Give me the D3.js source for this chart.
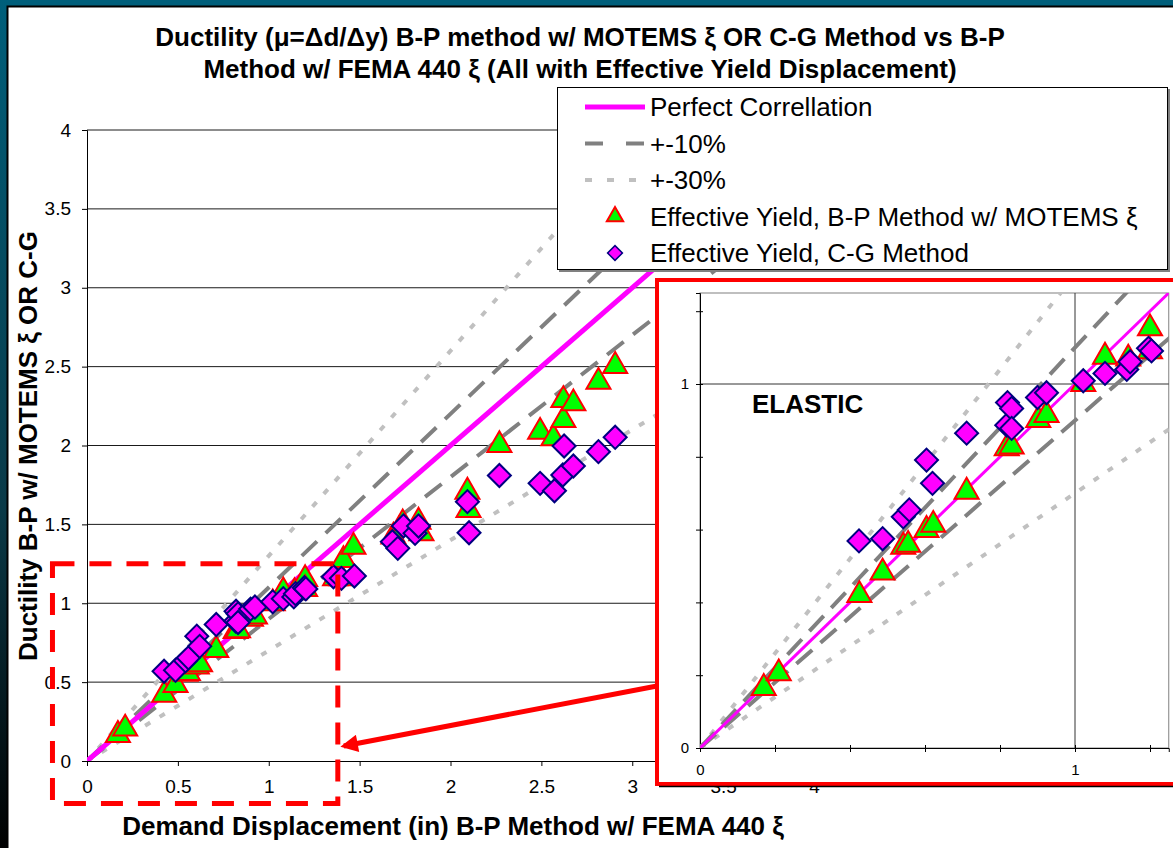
<!DOCTYPE html>
<html>
<head>
<meta charset="utf-8">
<script src="https://cdn.jsdelivr.net/npm/d3@7"></script>
<style>
  html, body { margin: 0; padding: 0; background: #005f7b; }
  svg { display: block; font-family: Arial, "Liberation Sans", sans-serif; }
</style>
</head>
<body>
<svg id="chart" width="1173" height="848"></svg>
<script>
'use strict';

var bpMotems = [
  [0.17, 0.165], [0.21, 0.205], [0.425, 0.42], [0.487, 0.482], [0.542, 0.553],
  [0.555, 0.558], [0.604, 0.599], [0.622, 0.613], [0.711, 0.704], [0.818, 0.823],
  [0.831, 0.828], [0.902, 0.901], [0.924, 0.915], [1.022, 1.0], [1.08, 1.075],
  [1.142, 1.07], [1.2, 1.153], [1.2, 1.09], [1.365, 1.158], [1.4, 1.158],
  [1.411, 1.274], [1.466, 1.358], [1.686, 1.422], [1.737, 1.506], [1.824, 1.517],
  [1.84, 1.443], [2.093, 1.707], [2.099, 1.591], [2.269, 2.003], [2.493, 2.087],
  [2.566, 2.045], [2.621, 2.162], [2.621, 2.288], [2.676, 2.267], [2.814, 2.404],
  [2.906, 2.504]
];

var cgMethod = [
  [0.424, 0.569], [0.487, 0.575], [0.542, 0.635], [0.558, 0.654], [0.604, 0.791],
  [0.62, 0.727], [0.711, 0.865], [0.818, 0.887], [0.82, 0.949], [0.831, 0.933],
  [0.831, 0.878], [0.9, 0.963], [0.924, 0.976], [1.022, 1.009], [1.08, 1.029],
  [1.138, 1.04], [1.147, 1.061], [1.196, 1.098], [1.204, 1.091], [1.356, 1.168],
  [1.4, 1.158], [1.471, 1.173], [1.68, 1.39], [1.71, 1.348], [1.741, 1.49],
  [1.805, 1.443], [1.824, 1.49], [2.093, 1.644], [2.102, 1.447], [2.269, 1.81],
  [2.493, 1.76], [2.572, 1.713], [2.618, 1.813], [2.625, 1.997], [2.676, 1.87],
  [2.814, 1.961], [2.906, 2.052]
];

// reference lines y = r * x
var perfectRatio = [1];
var tenPctRatios = [1.1, 0.9];
var thirtyPctRatios = [1.3, 0.7];
var lineEnds = [0, 4];

var mainXTicks = [0, 0.5, 1, 1.5, 2, 2.5, 3, 3.5, 4];
var mainYTicks = [0, 0.5, 1, 1.5, 2, 2.5, 3, 3.5, 4];
var insetTicks = [0, 0.2, 0.4, 0.6, 0.8, 1, 1.2];
var insetLabels = [0, 1];

// zoomed area of the main chart (x0, x1, y0, y1)
var zoomBox = [-0.19, 1.38, -0.27, 1.25];

var titleLines = [
  'Ductility (\u03bc=\u0394d/\u0394y) B-P method w/ MOTEMS \u03be OR C-G Method vs B-P',
  'Method w/ FEMA 440 \u03be (All with Effective Yield Displacement)'
];
var xTitle = 'Demand Displacement (in) B-P Method w/ FEMA 440 \u03be';
var yTitle = 'Ductility B-P w/ MOTEMS \u03be OR C-G';
var legendLabels = ['Perfect Correllation', '+-10%', '+-30%',
  'Effective Yield, B-P Method w/ MOTEMS \u03be', 'Effective Yield, C-G Method'];

var svg = d3.select('#chart');

// ---- slide background
var defs = svg.append('defs');
var grad = defs.append('linearGradient').attr('id', 'edge').attr('x1', 0).attr('y1', 0).attr('x2', 0).attr('y2', 1);
grad.append('stop').attr('offset', '0%').attr('stop-color', '#005f7b');
grad.append('stop').attr('offset', '60%').attr('stop-color', '#0a3a48');
grad.append('stop').attr('offset', '100%').attr('stop-color', '#000000');

svg.append('rect').attr('width', 1173).attr('height', 848).attr('fill', '#005f7b');
svg.append('rect').attr('x', 0).attr('y', 0).attr('width', 8).attr('height', 848).attr('fill', 'url(#edge)');
svg.append('rect').attr('x', 8).attr('y', 6).attr('width', 1165).attr('height', 842).attr('fill', '#ffffff');
svg.append('path').attr('d', 'M7.5,848V6.5H1173').attr('fill', 'none').attr('stroke', '#000').attr('stroke-width', 2);

// ---- main chart
var x = d3.scaleLinear().domain([0, 4]).range([87, 814]);
var y = d3.scaleLinear().domain([0, 4]).range([761, 130]);

var main = svg.append('g');

main.selectAll('line.grid').data(mainYTicks.filter(function (d) { return d > 0; }))
  .enter().append('line')
  .attr('x1', x(0)).attr('x2', x(4))
  .attr('y1', function (d) { return y(d); }).attr('y2', function (d) { return y(d); })
  .attr('stroke', '#1a1a1a').attr('stroke-width', 1);

var xAxis = main.append('g').attr('transform', 'translate(0,' + y(0) + ')')
  .call(d3.axisBottom(x).tickValues(mainXTicks).tickSize(5).tickPadding(14).tickFormat(d3.format('')));
var yAxis = main.append('g').attr('transform', 'translate(' + x(0) + ',0)')
  .call(d3.axisLeft(y).tickValues(mainYTicks).tickSize(5).tickPadding(11).tickFormat(d3.format('')));
[xAxis, yAxis].forEach(function (a) {
  a.selectAll('text').attr('font-size', 19).attr('font-family', 'Arial, "Liberation Sans", sans-serif').attr('fill', '#000');
  a.selectAll('line, path').attr('stroke', '#000');
});

main.append('clipPath').attr('id', 'mainClip').append('rect')
  .attr('x', x(0)).attr('y', y(4)).attr('width', x(4) - x(0)).attr('height', y(0) - y(4));

function drawRefLines(g, xs, ys, ratios, color, width, dash) {
  var line = d3.line().x(function (d) { return xs(d[0]); }).y(function (d) { return ys(d[1]); });
  g.selectAll(null).data(ratios).enter().append('path')
    .attr('d', function (r) { return line(lineEnds.map(function (v) { return [v, v * r]; })); })
    .attr('fill', 'none').attr('stroke', color).attr('stroke-width', width)
    .attr('stroke-dasharray', dash);
}

function drawMarkers(g, xs, ys, data, kind) {
  var sym = kind === 'tri'
    ? d3.symbol().type(d3.symbolTriangle).size(250)
    : d3.symbol().type(d3.symbolSquare).size(265);
  g.selectAll(null).data(data).enter().append('path')
    .attr('d', sym)
    .attr('transform', function (d) {
      return 'translate(' + xs(d[0]) + ',' + ys(d[1]) + ')' + (kind === 'tri' ? '' : ' rotate(45)');
    })
    .attr('fill', kind === 'tri' ? '#00ff00' : '#ff00ff')
    .attr('stroke', kind === 'tri' ? '#ff0000' : '#000080')
    .attr('stroke-width', 2);
}

var mainLines = main.append('g').attr('clip-path', 'url(#mainClip)');
drawRefLines(mainLines, x, y, thirtyPctRatios, '#c0c0c0', 4, '6,11');
drawRefLines(mainLines, x, y, tenPctRatios, '#808080', 4, '21,12');
drawRefLines(mainLines, x, y, perfectRatio, '#ff00ff', 5, null);
drawMarkers(main, x, y, bpMotems, 'tri');
drawMarkers(main, x, y, cgMethod, 'dia');

// titles
svg.selectAll('text.title').data(titleLines).enter().append('text')
  .attr('x', 580).attr('y', function (d, i) { return 46 + i * 32; })
  .attr('text-anchor', 'middle').attr('font-size', 26).attr('font-weight', 'bold')
  .text(function (d) { return d; });

svg.append('text').attr('x', 453).attr('y', 835).attr('text-anchor', 'middle')
  .attr('font-size', 26).attr('font-weight', 'bold').text(xTitle);

svg.append('text').attr('transform', 'translate(37,446) rotate(-90)').attr('text-anchor', 'middle')
  .attr('font-size', 26).attr('font-weight', 'bold').text(yTitle);

// ---- legend
var legend = svg.append('g').attr('transform', 'translate(557,87)');
legend.append('rect').attr('x', 2).attr('y', 2).attr('width', 611).attr('height', 183).attr('fill', '#808080');
legend.append('rect').attr('x', 0.5).attr('y', 0.5).attr('width', 610).attr('height', 182)
  .attr('fill', '#fff').attr('stroke', '#000').attr('stroke-width', 1);

var rowY = function (i) { return 20 + i * 36.5; };
legend.append('line').attr('x1', 28).attr('x2', 88).attr('y1', rowY(0)).attr('y2', rowY(0))
  .attr('stroke', '#ff00ff').attr('stroke-width', 5);
legend.append('line').attr('x1', 28).attr('x2', 88).attr('y1', rowY(1)).attr('y2', rowY(1))
  .attr('stroke', '#808080').attr('stroke-width', 4).attr('stroke-dasharray', '18,23');
legend.append('line').attr('x1', 28).attr('x2', 88).attr('y1', rowY(2)).attr('y2', rowY(2))
  .attr('stroke', '#c0c0c0').attr('stroke-width', 4).attr('stroke-dasharray', '7,15');
legend.append('path').attr('d', d3.symbol().type(d3.symbolTriangle).size(115))
  .attr('transform', 'translate(58,' + rowY(3) + ')')
  .attr('fill', '#00ff00').attr('stroke', '#ff0000').attr('stroke-width', 2);
legend.append('path').attr('d', d3.symbol().type(d3.symbolSquare).size(110))
  .attr('transform', 'translate(58,' + rowY(4) + ') rotate(45)')
  .attr('fill', '#ff00ff').attr('stroke', '#000080').attr('stroke-width', 1.5);

legend.selectAll('text').data(legendLabels).enter().append('text')
  .attr('x', 93).attr('y', function (d, i) { return rowY(i) + 9; })
  .attr('font-size', 26).text(function (d) { return d; });

// ---- inset (elastic zone zoom)
var xi = d3.scaleLinear().domain([0, 1.25]).range([700, 1168.75]);
var yi = d3.scaleLinear().domain([0, 1.25]).range([748, 293]);

var inset = svg.append('g');
inset.append('rect').attr('x', 657).attr('y', 280).attr('width', 530).attr('height', 504)
  .attr('fill', '#fff').attr('stroke', '#ff0000').attr('stroke-width', 4);
inset.append('line').attr('x1', 659).attr('x2', 1173).attr('y1', 786.5).attr('y2', 786.5)
  .attr('stroke', '#000').attr('stroke-width', 1.5);

inset.append('rect').attr('x', xi(0)).attr('y', yi(1.25)).attr('width', xi(1.25) - xi(0)).attr('height', yi(0) - yi(1.25))
  .attr('fill', 'none').attr('stroke', '#808080').attr('stroke-width', 1);
inset.append('line').attr('x1', xi(0)).attr('x2', xi(1.25)).attr('y1', yi(1)).attr('y2', yi(1))
  .attr('stroke', '#333').attr('stroke-width', 1);
inset.append('line').attr('x1', xi(1)).attr('x2', xi(1)).attr('y1', yi(0)).attr('y2', yi(1.25))
  .attr('stroke', '#333').attr('stroke-width', 1);

var fmtInset = function (d) { return insetLabels.indexOf(d) >= 0 ? String(d) : ''; };
var xiAxis = inset.append('g').attr('transform', 'translate(0,' + yi(0) + ')')
  .call(d3.axisBottom(xi).tickValues(insetTicks).tickSize(4).tickPadding(12).tickFormat(fmtInset));
var yiAxis = inset.append('g').attr('transform', 'translate(' + xi(0) + ',0)')
  .call(d3.axisLeft(yi).tickValues(insetTicks).tickSize(4).tickPadding(7).tickFormat(fmtInset));
xiAxis.selectAll('.tick line').attr('y1', -3);
yiAxis.selectAll('.tick line').attr('x1', 3);
[xiAxis, yiAxis].forEach(function (a) {
  a.selectAll('text').attr('font-size', 15).attr('font-family', 'Arial, "Liberation Sans", sans-serif').attr('fill', '#000');
  a.selectAll('line, path').attr('stroke', '#000');
});

inset.append('clipPath').attr('id', 'insetClip').append('rect')
  .attr('x', xi(0)).attr('y', yi(1.25)).attr('width', xi(1.25) - xi(0)).attr('height', yi(0) - yi(1.25));
var insetLines = inset.append('g').attr('clip-path', 'url(#insetClip)');
drawRefLines(insetLines, xi, yi, thirtyPctRatios, '#c0c0c0', 4, '6,11');
drawRefLines(insetLines, xi, yi, tenPctRatios, '#808080', 4, '21,11');
drawRefLines(insetLines, xi, yi, perfectRatio, '#ff00ff', 3, null);

var inRange = function (d) { return d[0] <= 1.25 && d[1] <= 1.25; };
drawMarkers(inset, xi, yi, bpMotems.filter(inRange), 'tri');
drawMarkers(inset, xi, yi, cgMethod.filter(inRange), 'dia');

inset.append('text').attr('x', 752).attr('y', 413).attr('font-size', 26).attr('font-weight', 'bold').text('ELASTIC');

// ---- zoom annotation : dashed box + arrow
svg.append('rect')
  .attr('x', x(zoomBox[0])).attr('y', y(zoomBox[3]))
  .attr('width', x(zoomBox[1]) - x(zoomBox[0])).attr('height', y(zoomBox[2]) - y(zoomBox[3]))
  .attr('fill', 'none').attr('stroke', '#ff0000').attr('stroke-width', 5).attr('stroke-dasharray', '22,15');

defs.append('marker').attr('id', 'head').attr('viewBox', '0 0 10 10').attr('refX', 8).attr('refY', 5)
  .attr('markerWidth', 4).attr('markerHeight', 3.5).attr('orient', 'auto')
  .append('path').attr('d', 'M0,0L10,5L0,10z').attr('fill', '#ff0000');
svg.append('line').attr('x1', 657).attr('y1', 686).attr('x2', x(zoomBox[1]) + 6).attr('y2', 746)
  .attr('stroke', '#ff0000').attr('stroke-width', 5).attr('marker-end', 'url(#head)');
</script>
</body>
</html>
